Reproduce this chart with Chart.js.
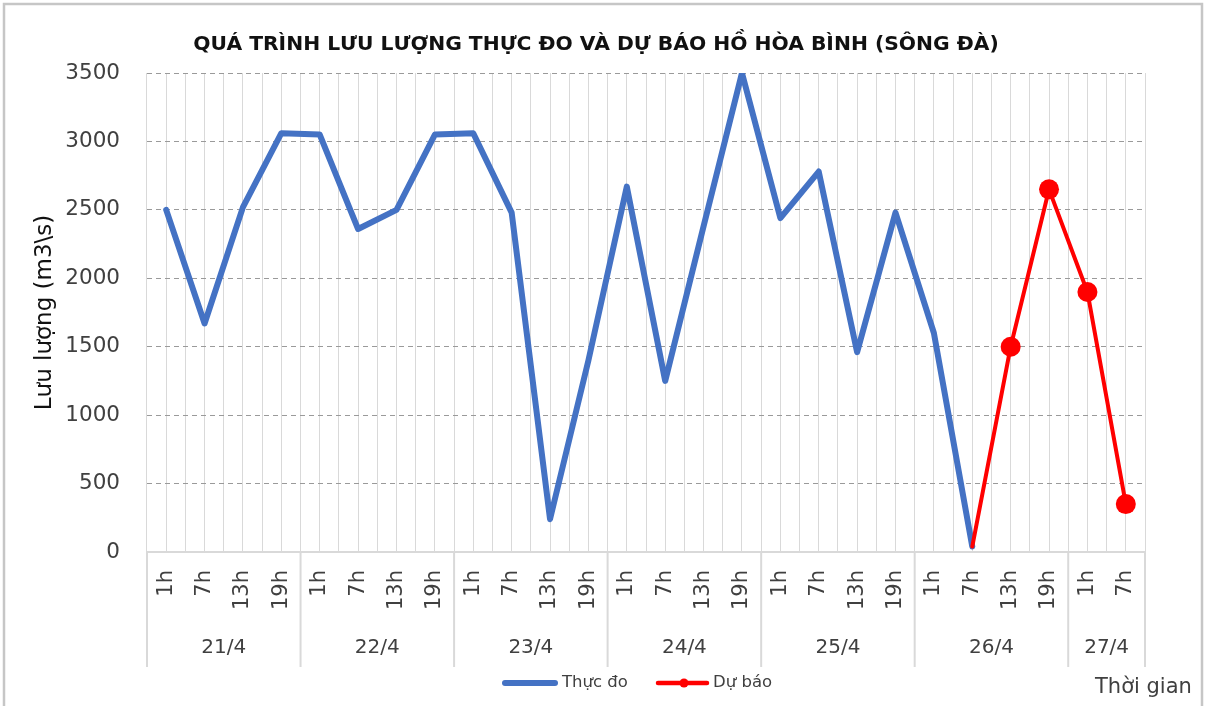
<!DOCTYPE html>
<html><head><meta charset="utf-8">
<script src="https://cdn.jsdelivr.net/npm/chart.js@4.4.0/dist/chart.umd.min.js"></script>
<style>html,body{margin:0;padding:0;background:#fff;}#wrap{position:relative;width:1206px;height:706px;}</style>
</head><body><div id="wrap"><canvas id="c" width="1206" height="706"></canvas></div>
<script>
// ---- data ----
const hours = ['1h','7h','13h','19h','1h','7h','13h','19h','1h','7h','13h','19h','1h','7h','13h','19h','1h','7h','13h','19h','1h','7h','13h','19h','1h','7h'];
const dates = ['21/4','22/4','23/4','24/4','25/4','26/4','27/4'];
const dateSpans = [4,4,4,4,4,4,2];
const measured = [2500,1670,2520,3060,3050,2360,2500,3050,3060,2480,240,1400,2670,1250,2380,3500,2440,2780,1460,2480,1600,40,null,null,null,null];
const forecast = [null,null,null,null,null,null,null,null,null,null,null,null,null,null,null,null,null,null,null,null,null,40,1500,2650,1900,350];
const yMin = 0, yMax = 3500, yStep = 500;
const titleText = 'QUÁ TRÌNH LƯU LƯỢNG THỰC ĐO VÀ DỰ BÁO HỒ HÒA BÌNH (SÔNG ĐÀ)';
const yTitle = 'Lưu lượng (m3\\s)';
const xTitle = 'Thời gian';
const seriesNames = ['Thực đo','Dự báo'];
const forecastStart = forecast.findIndex(v => v !== null);

const FONT = '"DejaVu Sans", sans-serif';
const TXT = '#404040';
const GRID = '#d9d9d9';

const extras = {
  id: 'extras',
  beforeDraw(chart) {
    const ctx = chart.ctx;
    ctx.save();
    ctx.fillStyle = '#fff';
    ctx.fillRect(0, 0, chart.width, chart.height);
    ctx.restore();
  },
  afterDraw(chart) {
    const ctx = chart.ctx, x = chart.scales.x, area = chart.chartArea;
    ctx.save();
    // frame
    ctx.strokeStyle = '#c6c6c6'; ctx.lineWidth = 2.5;
    ctx.beginPath(); ctx.moveTo(4, 706); ctx.lineTo(4, 4); ctx.lineTo(1202, 4); ctx.lineTo(1202, 706); ctx.stroke();
    // title
    ctx.fillStyle = '#111';
    ctx.font = 'bold 20.3px ' + FONT;
    ctx.textAlign = 'center'; ctx.textBaseline = 'middle';
    ctx.fillText(titleText, 596, 45);
    // date groups
    const half = (x.getPixelForValue(1) - x.getPixelForValue(0)) / 2;
    ctx.strokeStyle = GRID; ctx.lineWidth = 2;
    ctx.font = '20px ' + FONT; ctx.fillStyle = TXT;
    let start = 0;
    dates.forEach((d, i) => {
      const left = x.getPixelForValue(start) - half;
      const right = x.getPixelForValue(start + dateSpans[i] - 1) + half;
      ctx.beginPath(); ctx.moveTo(left, area.bottom); ctx.lineTo(left, 667); ctx.stroke();
      if (i === dates.length - 1) { ctx.beginPath(); ctx.moveTo(right, area.bottom); ctx.lineTo(right, 667); ctx.stroke(); }
      ctx.fillText(d, (left + right) / 2, 648);
      start += dateSpans[i];
    });
    // legend
    const ly = 683;
    ctx.lineCap = 'round';
    ctx.strokeStyle = '#4472C4'; ctx.lineWidth = 6;
    ctx.beginPath(); ctx.moveTo(505, ly); ctx.lineTo(555, ly); ctx.stroke();
    ctx.strokeStyle = '#FF0000'; ctx.lineWidth = 4.5;
    ctx.beginPath(); ctx.moveTo(658, ly); ctx.lineTo(707, ly); ctx.stroke();
    ctx.fillStyle = '#FF0000';
    ctx.beginPath(); ctx.arc(684, ly, 4.5, 0, Math.PI * 2); ctx.fill();
    ctx.fillStyle = TXT; ctx.font = '16.5px ' + FONT; ctx.textAlign = 'left';
    ctx.fillText(seriesNames[0], 562, ly);
    ctx.fillText(seriesNames[1], 713, ly);
    // x title
    ctx.font = '21px ' + FONT; ctx.textBaseline = 'alphabetic';
    ctx.fillText(xTitle, 1095, 693);
    ctx.restore();
  }
};

new Chart(document.getElementById('c'), {
  type: 'line',
  data: {
    labels: hours,
    datasets: [
      { label: seriesNames[0], data: measured, borderColor: '#4472C4', backgroundColor: '#4472C4', borderWidth: 6,
        pointRadius: 0, borderJoinStyle: 'round', borderCapStyle: 'round', tension: 0, order: 2, xAxisID: 'x', yAxisID: 'y' },
      { label: seriesNames[1], data: forecast, borderColor: '#FF0000', backgroundColor: '#FF0000', borderWidth: 4,
        pointRadius: c => c.dataIndex === forecastStart ? 0 : 10, pointHoverRadius: 10, pointBorderWidth: 0,
        borderJoinStyle: 'round', borderCapStyle: 'round', tension: 0, order: 1, xAxisID: 'x', yAxisID: 'y' }
    ]
  },
  options: {
    responsive: false, animation: false,
    layout: { padding: { left: 0, right: 61, top: 73, bottom: 0 } },
    plugins: { legend: { display: false }, title: { display: false }, tooltip: { enabled: false } },
    scales: {
      x: {
        type: 'category', position: 'bottom', offset: true,
        grid: { offset: true, color: GRID, lineWidth: 1, drawTicks: false },
        border: { display: true, color: GRID, width: 2 },
        ticks: { autoSkip: false, minRotation: 90, maxRotation: 90, padding: 18, color: TXT, font: { family: FONT, size: 21 } },
        afterFit: s => { s.height = 154; }
      },
      x2: {
        type: 'category', position: 'top', offset: true, labels: hours,
        grid: { offset: false, color: GRID, lineWidth: 1, drawTicks: false },
        border: { display: false },
        ticks: { display: false },
        afterFit: s => { s.height = 0; }
      },
      y: {
        min: yMin, max: yMax,
        grid: { color: c => c.tick && c.tick.value === 0 ? 'rgba(0,0,0,0)' : '#9a9a9a', lineWidth: 1, drawTicks: false },
        border: { display: false, dash: [5, 4] },
        ticks: { stepSize: yStep, padding: 27, color: TXT, font: { family: FONT, size: 21.5 }, callback: v => String(v) },
        title: { display: true, text: yTitle, color: '#111', font: { family: FONT, size: 23 }, padding: { top: 31, bottom: 0 } },
        afterFit: s => { s.width = 147; }
      }
    }
  },
  plugins: [extras]
});
</script></body></html>
